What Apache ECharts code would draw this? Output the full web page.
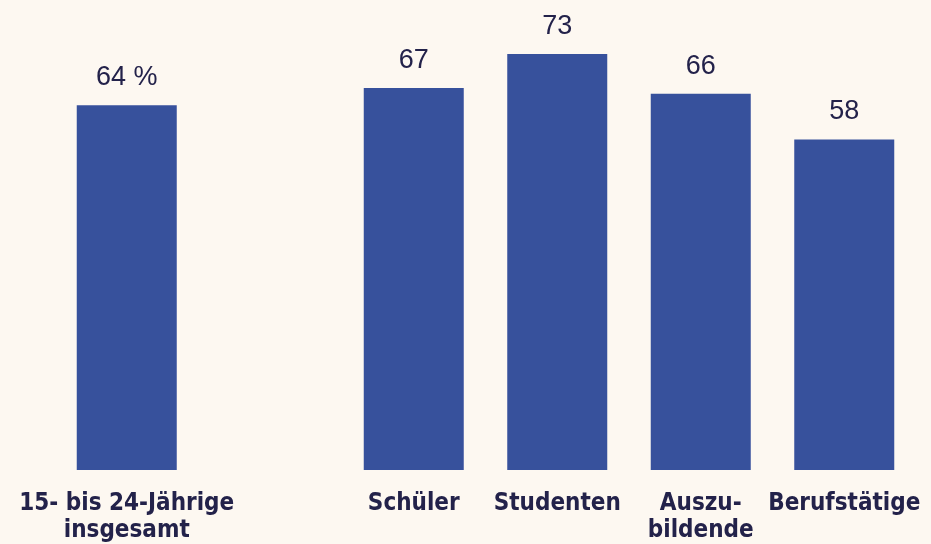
<!DOCTYPE html>
<html><head><meta charset="utf-8">
<script src="https://cdn.jsdelivr.net/npm/echarts@6/dist/echarts.min.js"></script>
<style>html,body{margin:0;padding:0;background:#fdf8f1;}#c{width:931px;height:544px;}</style>
</head><body><div id="c"></div>
<script>
const categories = ["15- bis 24-Jährige\ninsgesamt", "", "Schüler", "Studenten", "Auszu-\nbildende", "Berufstätige"];
const values = [64, null, 67, 73, 66, 58];
const valueLabels = ["64 %", "", "67", "73", "66", "58"];

const chart = echarts.init(document.getElementById('c'));
chart.setOption({
  backgroundColor: '#fdf8f1',
  animation: false,
  grid: {left: 55, right: 15, top: 14, bottom: 74},
  xAxis: {
    type: 'category', data: categories,
    axisLine: {show: false}, axisTick: {show: false},
    axisLabel: {
      interval: 0, margin: 20, color: '#23224a',
      fontFamily: '"Liberation Sans Narrow", "DejaVu Sans Condensed", sans-serif',
      fontWeight: 'bold', fontSize: 24, lineHeight: 27
    }
  },
  yAxis: {type: 'value', min: 0, max: 80, show: false, splitLine: {show: false}},
  series: [{
    type: 'bar', data: values, barWidth: 100,
    itemStyle: {color: '#37519c'},
    label: {
      show: true, position: 'top', distance: 14, color: '#23224a',
      fontFamily: '"Liberation Sans", Arial, sans-serif', fontSize: 27,
      formatter: p => valueLabels[p.dataIndex]
    }
  }]
});
</script></body></html>
